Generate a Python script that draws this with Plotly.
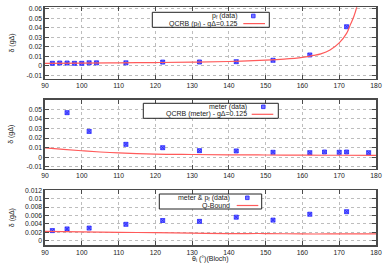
import plotly.graph_objects as go

# ---------------- data ----------------
theta_pf = [92, 94, 96, 98, 100, 102, 104, 112, 122, 132, 142, 152, 162, 172]
delta_pf = [0.0025, 0.0028, 0.0028, 0.0025, 0.0025, 0.0030, 0.0030, 0.0030, 0.0038, 0.0039, 0.0042, 0.0057, 0.0113, 0.041]

qcrb_pf_theta = [90, 100, 110, 120, 130, 140, 150, 155, 160, 163, 165, 167.5, 170, 172, 173, 174, 175, 176]
qcrb_pf = [0.0025, 0.0027, 0.0030, 0.0033, 0.0037, 0.0044, 0.0058, 0.0069, 0.0088, 0.0108, 0.0125, 0.0165, 0.024, 0.034, 0.043, 0.052, 0.065, 0.082]

theta_meter = [96, 102, 112, 122, 132, 142, 152, 162, 166, 170, 172, 178]
delta_meter = [0.0465, 0.027, 0.0135, 0.0100, 0.0069, 0.0066, 0.0052, 0.0048, 0.0055, 0.0052, 0.0055, 0.0048]

qcrb_meter_theta = [90, 95, 100, 105, 110, 120, 130, 140, 150, 160, 170, 180]
qcrb_meter = [0.0097, 0.0082, 0.0068, 0.0055, 0.0045, 0.0033, 0.0029, 0.0026, 0.0024, 0.0022, 0.0021, 0.0020]

theta_both = [92, 96, 102, 112, 122, 132, 142, 152, 162, 172]
delta_both = [0.0024, 0.0028, 0.0030, 0.0039, 0.0048, 0.0046, 0.0056, 0.0049, 0.0063, 0.0069]

qbound_theta = [90, 100, 110, 120, 130, 140, 150, 160, 170, 180]
qbound = [0.0022, 0.0021, 0.0020, 0.0019, 0.0018, 0.0017, 0.0017, 0.0016, 0.0016, 0.0016]

x_ticks = [90, 100, 110, 120, 130, 140, 150, 160, 170, 180]
y_ticks_big = [-0.01, 0, 0.01, 0.02, 0.03, 0.04, 0.05, 0.06]
y_text_big = ["-0.01", "0", "0.01", "0.02", "0.03", "0.04", "0.05", "0.06"]
y_ticks_small = [0, 0.002, 0.004, 0.006, 0.008, 0.01, 0.012]
y_text_small = ["0", "0.002", "0.004", "0.006", "0.008", "0.01", "0.012"]

# ---------------- styling ----------------
W, H = 390, 273
L, R = 45, 14
PW = W - L - R
FONT = "Liberation Sans, Arial, sans-serif"
BLUE_FILL = "#7474ff"
BLUE_LINE = "#2424ff"
RED = "#ff5a5a"
TXT = "#222"


def px(x):
    return (x - L) / PW


def py(y):
    return 1 - y / H


marker = dict(symbol="square-x", size=4, color=BLUE_FILL, line=dict(color=BLUE_LINE, width=0.8))
line = dict(color=RED, width=1.2, shape="spline")

fig = go.Figure()
fig.add_trace(go.Scatter(x=theta_pf, y=delta_pf, mode="markers", marker=marker, xaxis="x", yaxis="y"))
fig.add_trace(go.Scatter(x=qcrb_pf_theta, y=qcrb_pf, mode="lines", line=line, xaxis="x", yaxis="y"))
fig.add_trace(go.Scatter(x=theta_meter, y=delta_meter, mode="markers", marker=marker, xaxis="x2", yaxis="y2"))
fig.add_trace(go.Scatter(x=qcrb_meter_theta, y=qcrb_meter, mode="lines", line=line, xaxis="x2", yaxis="y2"))
fig.add_trace(go.Scatter(x=theta_both, y=delta_both, mode="markers", marker=marker, xaxis="x3", yaxis="y3"))
fig.add_trace(go.Scatter(x=qbound_theta, y=qbound, mode="lines", line=line, xaxis="x3", yaxis="y3"))

axis_common = dict(
    showline=True, mirror="allticks", linecolor="#4a4a4a", linewidth=1.6,
    ticks="inside", ticklen=4, tickcolor="#4a4a4a", tickwidth=1,
    showgrid=True, gridcolor="#bdbdbd", griddash="dot", gridwidth=1,
    zeroline=False, automargin=False, tickfont=dict(family=FONT, size=6.8, color=TXT),
)

domains = [
    (78.7, 7.3, [-0.0137, 0.0615], y_ticks_big, y_text_big),
    (168.7, 100.0, [-0.0119, 0.0597], y_ticks_big, y_text_big),
    (245.0, 190.3, [-0.00103, 0.0120], y_ticks_small, y_text_small),
]

layout = dict(
    width=W, height=H, margin=dict(l=L, r=R, t=0, b=0, autoexpand=False),
    paper_bgcolor="white", plot_bgcolor="white", showlegend=False,
    font=dict(family=FONT, size=7, color=TXT),
)
for i, (bot, top, rng, tv, tt) in enumerate(domains):
    s = "" if i == 0 else str(i + 1)
    layout["xaxis" + s] = dict(axis_common, domain=[0, 1], range=[90, 180], tickvals=x_ticks,
                               anchor="y" + s)
    layout["yaxis" + s] = dict(axis_common, domain=[py(bot), py(top)], range=rng, tickvals=tv,
                               ticktext=tt, anchor="x" + s)
fig.update_layout(**layout)

annotations = []
shapes = []

# y-axis titles
for (bot, top, *_rest) in domains:
    annotations.append(dict(text="δ (gΔ)", x=px(11.5), y=py((bot + top) / 2), xref="paper", yref="paper",
                            textangle=-90, showarrow=False, xanchor="center", yanchor="middle",
                            font=dict(family=FONT, size=7, color=TXT)))
# x-axis title
annotations.append(dict(text="θ<sub>i</sub> (°)(Bloch)", x=px(210), y=py(259), xref="paper", yref="paper",
                        showarrow=False, xanchor="center", yanchor="middle",
                        font=dict(family=FONT, size=7, color=TXT)))

# custom gnuplot-style legends
legends = [
    (152.3, 269.3, 12.3, 27.3, 239.5, 16.0, 23.6, 253.3, 243.3, 265.0,
     "p<sub>f</sub> (data)", "QCRB (p<sub>f</sub>) - gΔ=0.125"),
    (143.3, 278.3, 103.3, 118.3, 248.5, 106.8, 114.3, 263.3, 251.7, 273.3,
     "meter (data)", "QCRB (meter) - gΔ=0.125"),
    (159.3, 261.7, 194.0, 209.0, 232.0, 197.8, 205.5, 247.3, 236.7, 258.3,
     "meter &amp; p<sub>f</sub> (data)", "Q-Bound"),
]
for (bx0, bx1, by0, by1, tx, r1, r2, mx, lx0, lx1, lab1, lab2) in legends:
    shapes.append(dict(type="rect", xref="paper", yref="paper", x0=px(bx0), x1=px(bx1),
                       y0=py(by1), y1=py(by0), line=dict(color=TXT, width=1), fillcolor="white",
                       layer="above"))
    annotations.append(dict(text=lab1, x=px(tx), y=py(r1), xref="paper", yref="paper", showarrow=False,
                            xanchor="right", yanchor="middle", font=dict(family=FONT, size=7, color=TXT)))
    annotations.append(dict(text=lab2, x=px(tx), y=py(r2), xref="paper", yref="paper", showarrow=False,
                            xanchor="right", yanchor="middle", font=dict(family=FONT, size=7, color=TXT)))
    shapes.append(dict(type="rect", xref="paper", yref="paper", x0=px(mx - 1.8), x1=px(mx + 1.8),
                       y0=py(r1 + 1.8), y1=py(r1 - 1.8), fillcolor=BLUE_FILL,
                       line=dict(color=BLUE_LINE, width=0.8), layer="above"))
    shapes.append(dict(type="line", xref="paper", yref="paper", x0=px(lx0), x1=px(lx1),
                       y0=py(r2), y1=py(r2), line=dict(color=RED, width=1.2), layer="above"))

fig.update_layout(annotations=annotations, shapes=shapes)
fig.write_html(
    "out.html",
    config={"displayModeBar": False, "staticPlot": True},
    post_script="document.body.style.margin='0';document.body.style.overflow='hidden';"
                "document.documentElement.style.overflow='hidden';",
)
